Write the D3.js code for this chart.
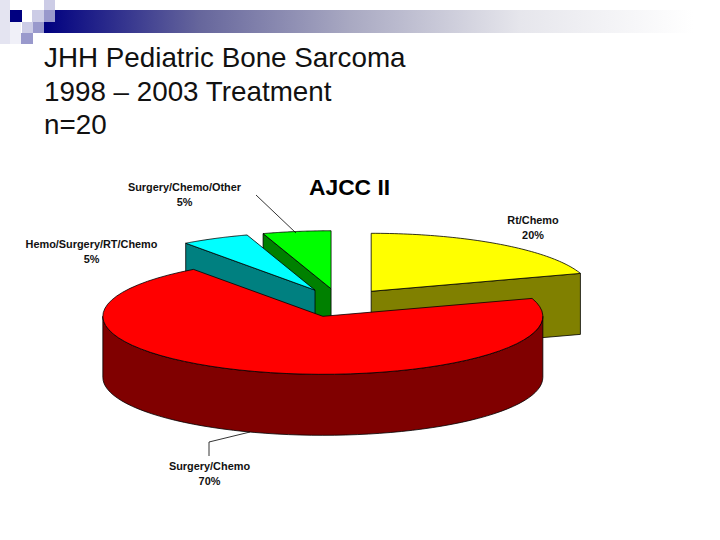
<!DOCTYPE html>
<html lang="en">
<head>
<meta charset="UTF-8">
<title>JHH Pediatric Bone Sarcoma</title>
<script src="https://d3js.org/d3.v7.min.js"></script>
<style>
    body { margin: 0; background: #fff; }
    svg { display: block; font-family: "Liberation Sans", Arial, sans-serif; }
    .title { font-size: 27.8px; fill: #111; }
    .chart-title { font-size: 22.8px; font-weight: bold; }
    .label { font-size: 10.9px; font-weight: bold; text-anchor: middle; fill: #111; }
</style>
</head>
<body>
<div id="chart"></div>
<script>
// Data
const categories = ["Rt/Chemo", "Surgery/Chemo", "Hemo/Surgery/RT/Chemo", "Surgery/Chemo/Other"];
const shares = [20, 70, 5, 5];
const topColors = ["#ffff00", "#ff0000", "#00ffff", "#00ff00"];
const sideColors = ["#808000", "#800000", "#008080", "#008000"];
const titleLines = ["JHH Pediatric Bone Sarcoma", "1998 – 2003 Treatment", "n=20"];

const width = 720, height = 540;
const svg = d3.select("#chart").append("svg").attr("width", width).attr("height", height);

// Slide background: gradient bar and squares
const grad = svg.append("defs").append("linearGradient").attr("id", "bar");
grad.append("stop").attr("offset", "0").attr("stop-color", "#000080");
grad.append("stop").attr("offset", "0.23").attr("stop-color", "#66669c");
grad.append("stop").attr("offset", "0.453").attr("stop-color", "#a9a9c2");
grad.append("stop").attr("offset", "0.704").attr("stop-color", "#e6e6ec");
grad.append("stop").attr("offset", "0.96").attr("stop-color", "#ffffff");
svg.append("rect").attr("x", 44).attr("y", 10).attr("width", 676).attr("height", 23).attr("fill", "url(#bar)");

const squares = [
    [0, 0, 10, 44, "#e4e4f1"], [10, 22, 11, 22, "#f0f0f8"],
    [10, 10, 12, 12, "#000080"], [32, 10, 12, 12, "#ccccE6"],
    [44, 0, 11, 10, "#ccccE6"], [44, 10, 11, 12, "#9999cc"], [22, 22, 11, 11, "#ccccE6"],
    [33, 22, 11, 11, "#9999cc"], [21, 33, 12, 11, "#9999cc"]
];
svg.selectAll(".sq").data(squares).enter().append("rect").attr("class", "sq")
    .attr("x", d => d[0]).attr("y", d => d[1]).attr("width", d => d[2]).attr("height", d => d[3])
    .attr("fill", d => d[4]);

svg.selectAll(".title").data(titleLines).enter().append("text").attr("class", "title")
    .attr("x", 44).attr("y", (d, i) => 67 + i * 33.5).text(d => d);

svg.append("text").attr("class", "chart-title").attr("x", 309).attr("y", 195).text("AJCC II");

// 3D pie geometry, angles clockwise from 12 o'clock like d3.pie
const rx = 220, ry = 58, depth = 61, explode = 0.245;
const cx = 339.5, cy = 302.8;
const px = d3.scaleLinear().domain([-1, 1]).range([cx - rx, cx + rx]);
const py = d3.scaleLinear().domain([-1, 1]).range([cy + ry, cy - ry]);

const arcs = d3.pie().sort(null)(shares);
arcs.forEach((d, i) => {
    d.name = categories[i];
    d.top = topColors[i];
    d.side = sideColors[i];
    const mid = (d.startAngle + d.endAngle) / 2;
    d.ox = px(explode * Math.sin(mid));
    d.oy = py(explode * Math.cos(mid));
});

const line = d3.line();
const point = (d, a, dz = 0) => [d.ox + (px(Math.sin(a)) - cx), d.oy + (py(Math.cos(a)) - cy) + dz];
const rimPoints = (d, a0, a1, dz = 0) => d3.range(0, 61).map(k => point(d, a0 + (a1 - a0) * k / 60, dz));

function drawPoly(pts, fill) {
    svg.append("path").attr("d", line(pts) + "Z").attr("fill", fill)
        .attr("stroke", "#000").attr("stroke-width", 0.8).attr("stroke-linejoin", "round");
}

function cutWall(d, a) {
    const outer = point(d, a);
    drawPoly([[d.ox, d.oy], outer, [outer[0], outer[1] + depth], [d.ox, d.oy + depth]], d.side);
}

function topFace(d) {
    drawPoly([[d.ox, d.oy], ...rimPoints(d, d.startAngle, d.endAngle)], d.top);
}

// back to front: yellow, green, cyan, red
cutWall(arcs[0], arcs[0].endAngle);
topFace(arcs[0]);
cutWall(arcs[3], arcs[3].startAngle);
topFace(arcs[3]);
cutWall(arcs[2], arcs[2].startAngle);
topFace(arcs[2]);

const a90 = Math.PI / 2, a270 = 3 * Math.PI / 2;
drawPoly([...rimPoints(arcs[1], a90, a270), ...rimPoints(arcs[1], a270, a90, depth)], arcs[1].side);
topFace(arcs[1]);

// Leader lines
const leaders = [[[256, 195], [296, 233]], [[250, 432], [209, 442], [209, 456]]];
leaders.forEach(l => svg.append("path").attr("d", line(l)).attr("fill", "none").attr("stroke", "#000").attr("stroke-width", 0.8));

// Labels
const labelPos = [[533, 223.5], [209.5, 469.5], [91.5, 247.5], [184.5, 190.5]];
arcs.forEach((d, i) => {
    const t = svg.append("text").attr("class", "label").attr("x", labelPos[i][0]).attr("y", labelPos[i][1]);
    t.append("tspan").attr("x", labelPos[i][0]).text(d.name);
    t.append("tspan").attr("x", labelPos[i][0]).attr("dy", 15).text(d.data + "%");
});
</script>
</body>
</html>
